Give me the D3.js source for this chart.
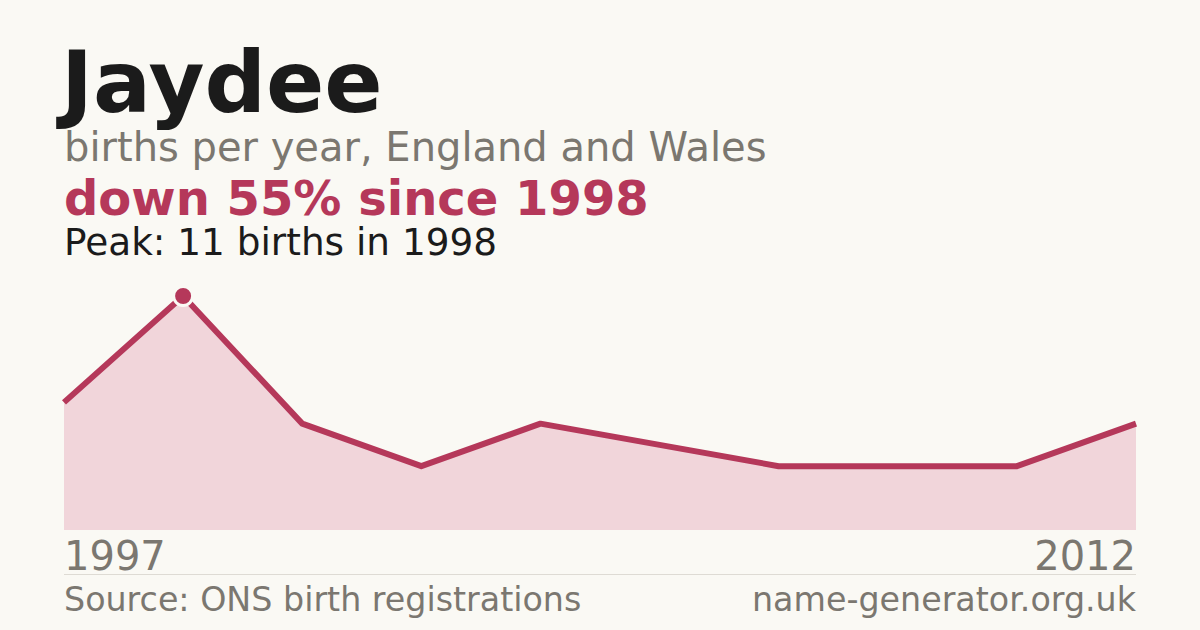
<!DOCTYPE html>
<html>
<head>
<meta charset="utf-8">
<script src="https://cdn.jsdelivr.net/npm/d3@7"></script>
<style>
  html, body { margin: 0; padding: 0; background: #faf9f4; }
  svg { display: block; font-family: "DejaVu Sans", sans-serif; }
</style>
</head>
<body>
<svg id="chart" width="1200" height="630"></svg>
<script>
// years with recorded births (only first and last are labelled)
const years = [1997, 1998, 1999, 2000, 2001, 2003, 2005, 2007, 2010, 2012];
const births = [6, 11, 5, 3, 5, 4, 3, 3, 3, 5];
const peakYear = 1998;
const peakValue = 11;

const W = 1200, H = 630;
const plot = { left: 64, right: 1136, top: 296, bottom: 530 };

const red = "#b5385a";
const grey = "#7b7770";

const svg = d3.select("#chart");

svg.append("rect")
  .attr("width", W)
  .attr("height", H)
  .attr("fill", "#faf9f4");

// headings
svg.append("text")
  .attr("x", 61).attr("y", 112)
  .attr("font-size", 86).attr("font-weight", "bold")
  .attr("fill", "#1b1b1b")
  .text("Jaydee");

svg.append("text")
  .attr("x", 64).attr("y", 161)
  .attr("font-size", 40)
  .attr("fill", grey)
  .text("births per year, England and Wales");

svg.append("text")
  .attr("x", 64).attr("y", 215)
  .attr("font-size", 48).attr("font-weight", "bold")
  .attr("fill", red)
  .text("down 55% since 1998");

svg.append("text")
  .attr("x", 64).attr("y", 255)
  .attr("font-size", 37.4)
  .attr("fill", "#1b1b1b")
  .text("Peak: " + peakValue + " births in " + peakYear);

// scales
const x = d3.scalePoint()
  .domain(years)
  .range([plot.left, plot.right]);

const y = d3.scaleLinear()
  .domain([0, d3.max(births)])
  .range([plot.bottom, plot.top]);

const data = years.map((yr, i) => ({ year: yr, value: births[i] }));

const area = d3.area()
  .x(d => x(d.year))
  .y0(y(0))
  .y1(d => y(d.value));

const line = d3.line()
  .x(d => x(d.year))
  .y(d => y(d.value));

svg.append("path")
  .datum(data)
  .attr("d", area)
  .attr("fill", "#f1d5da");

svg.append("path")
  .datum(data)
  .attr("d", line)
  .attr("fill", "none")
  .attr("stroke", red)
  .attr("stroke-width", 6)
  .attr("stroke-linejoin", "round");

// peak marker
const peak = data.find(d => d.year === peakYear);
svg.append("circle")
  .attr("cx", x(peak.year))
  .attr("cy", y(peak.value))
  .attr("r", 9.5)
  .attr("fill", red)
  .attr("stroke", "#faf9f4")
  .attr("stroke-width", 3);

// first / last year labels
svg.append("text")
  .attr("x", x(years[0])).attr("y", 570)
  .attr("font-size", 40)
  .attr("fill", grey)
  .text(years[0]);

svg.append("text")
  .attr("x", x(years[years.length - 1])).attr("y", 570)
  .attr("font-size", 40)
  .attr("text-anchor", "end")
  .attr("fill", grey)
  .text(years[years.length - 1]);

// footer
svg.append("line")
  .attr("x1", plot.left).attr("x2", plot.right)
  .attr("y1", 574.5).attr("y2", 574.5)
  .attr("stroke", "#dedbd4")
  .attr("stroke-width", 1);

svg.append("text")
  .attr("x", 64).attr("y", 611)
  .attr("font-size", 33.3)
  .attr("fill", grey)
  .text("Source: ONS birth registrations");

svg.append("text")
  .attr("x", 1136).attr("y", 611)
  .attr("font-size", 33.3)
  .attr("text-anchor", "end")
  .attr("fill", grey)
  .text("name-generator.org.uk");
</script>
</body>
</html>
